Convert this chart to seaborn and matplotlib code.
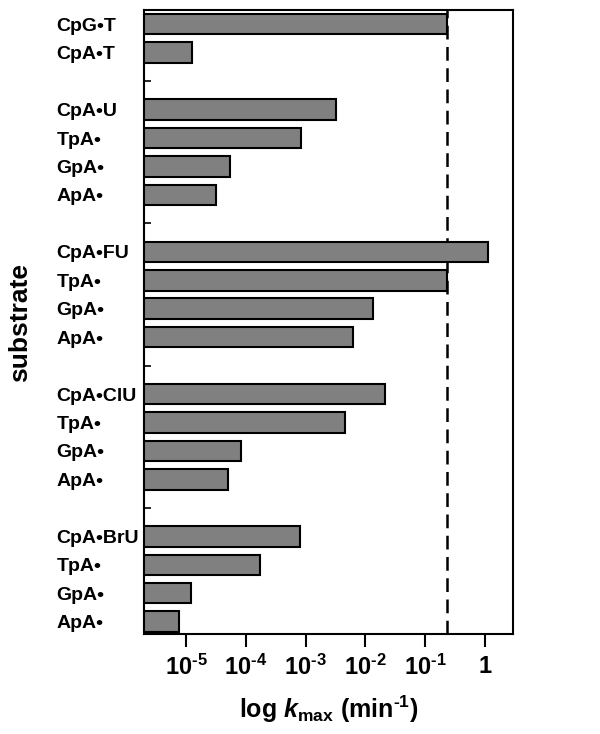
import numpy as np
import pandas as pd
import matplotlib
matplotlib.use("Agg")
import matplotlib.pyplot as plt
import seaborn as sns

''' Data '''
# substrate rows top to bottom, "" = spacer row between groups
substrates = ["CpG•T", "CpA•T", "",
              "CpA•U", "TpA•", "GpA•", "ApA•", "",
              "CpA•FU", "TpA•", "GpA•", "ApA•", "",
              "CpA•ClU", "TpA•", "GpA•", "ApA•", "",
              "CpA•BrU", "TpA•", "GpA•", "ApA•"]
kmax = [0.23, 1.25e-5, np.nan,
        3.2e-3, 8.3e-4, 5.4e-5, 3.2e-5, np.nan,
        1.1, 0.235, 0.0135, 6.3e-3, np.nan,
        0.0215, 4.5e-3, 8.5e-5, 5.1e-5, np.nan,
        8.0e-4, 1.76e-4, 1.23e-5, 7.6e-6]
ref_kmax = 0.235  # CpG•T reference (dashed line)

xticks = [1e-5, 1e-4, 1e-3, 1e-2, 1e-1, 1]
xticklabels = [r"$10^{\text{-}5}$", r"$10^{\text{-}4}$", r"$10^{\text{-}3}$",
               r"$10^{\text{-}2}$", r"$10^{\text{-}1}$", "1"]

row_ids = ["r%d" % i for i in range(len(substrates))]
df = pd.DataFrame({"row": row_ids, "kmax": kmax}).dropna()

''' Plot '''
sns.set_style("ticks")
plt.rcParams["font.family"] = ["Liberation Sans", "DejaVu Sans"]
plt.rcParams["font.weight"] = "bold"
plt.rcParams["mathtext.fontset"] = "custom"
plt.rcParams["mathtext.rm"] = "Liberation Sans:bold"
plt.rcParams["mathtext.it"] = "Liberation Sans:bold:italic"
plt.rcParams["mathtext.bf"] = "Liberation Sans:bold"
for key in ["text.color", "axes.labelcolor", "xtick.color", "ytick.color", "axes.edgecolor"]:
    plt.rcParams[key] = "black"

fig = plt.figure(figsize=(6, 7.34), dpi=100)
ax = fig.add_axes([0.24, 0.136, 0.615, 0.85])

sns.barplot(data=df, x="kmax", y="row", order=row_ids, orient="h",
            color="#808080", saturation=1, edgecolor="black",
            linewidth=1.5, width=0.72, log_scale=True, ax=ax)

ax.axvline(ref_kmax, color="black", linestyle=(0, (5.5, 3)), linewidth=1.8, zorder=0.5)
ax.set_axisbelow(True)

ax.set_xscale("log")
ax.set_xlim(10 ** -5.7, 10 ** 0.467)
ax.set_ylim(len(substrates) - 1 + 0.44, -0.49)
ax.set_xticks(xticks)
ax.set_xticklabels(xticklabels, fontsize=17, fontweight="bold")
ax.xaxis.set_minor_locator(matplotlib.ticker.NullLocator())
ax.set_yticks(range(len(substrates)))
ax.set_yticklabels(substrates, fontsize=14, fontweight="bold", ha="left")

ax.tick_params(axis="x", direction="out", length=9, width=1.5, pad=6, colors="black")
ax.tick_params(axis="y", direction="in", length=5, width=1.2, pad=63, colors="black")
for s in ax.spines.values():
    s.set_visible(True)
    s.set_linewidth(1.5)
    s.set_color("black")

ax.set_xlabel(r"log $\mathit{k}_{\mathrm{max}}$ (min$^{\text{-}1}$)", fontsize=18,
              fontweight="bold", labelpad=10, color="black")
ax.set_ylabel("substrate", fontsize=19, fontweight="bold", color="black")
ax.yaxis.set_label_coords(-0.303, 0.5)

fig.savefig("out.png", dpi=100)
